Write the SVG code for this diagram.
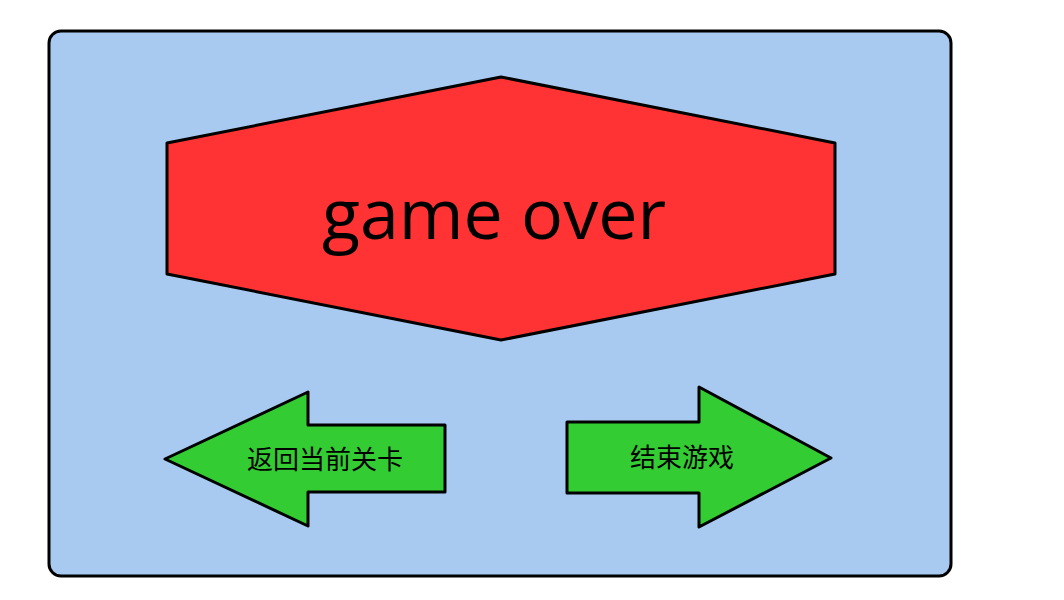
<svg xmlns="http://www.w3.org/2000/svg" width="1064" height="600" viewBox="0 0 1064 600">
<style>
.s{stroke:#000;stroke-width:3;stroke-linejoin:round}
.cn{font-family:"Noto Sans CJK SC","Noto Sans",sans-serif;font-size:26px;fill:#000;text-anchor:middle}
</style>
<rect width="1064" height="600" fill="#fff"/>
<g id="panel"><rect class="s" x="49" y="31" width="902" height="545" rx="12" fill="#a8caf0"/></g>
<g id="title">
<polygon class="s" points="167,143 501,77 835,143 835,274 501,340 167,274" fill="#ff3333"/>
<text x="494" y="239" font-family="Open Sans, sans-serif" font-size="70" text-anchor="middle" fill="#000">game over</text>
</g>
<g id="back">
<polygon class="s" points="165,459 308,392 308,425 445,425 445,492 308,492 308,526" fill="#33cc33"/>
<text class="cn" x="325" y="469">返回当前关卡</text>
</g>
<g id="quit">
<polygon class="s" points="567,422 699,422 699,387 831,458 699,527 699,493 567,493" fill="#33cc33"/>
<text class="cn" x="682" y="467">结束游戏</text>
</g>
<g id="connectors"/>
</svg>
